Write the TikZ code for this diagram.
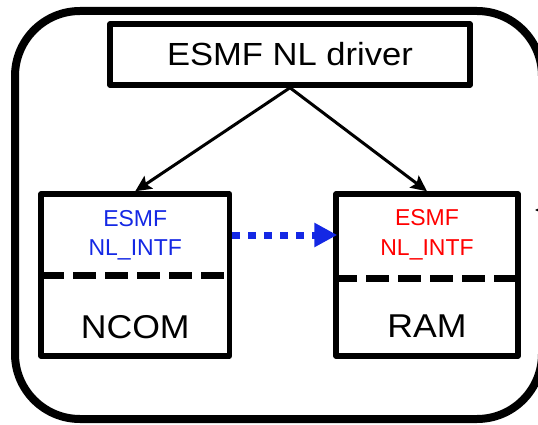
\documentclass[tikz,border=0pt]{standalone}
\usepackage{fontspec}
\setmainfont{Liberation Sans}
\newfontfamily\widesans[FakeStretch=1.08]{Liberation Sans}
\usetikzlibrary{arrows.meta}
\definecolor{intfblue}{RGB}{20,40,228}
\definecolor{intfred}{RGB}{255,0,0}
\tikzset{
  box/.style={draw, line width=5.5pt, line join=round, rectangle, inner sep=0pt},
  frame/.style={draw, line width=8pt, rounded corners=65pt, inner sep=0pt},
  bigtext/.style={font=\widesans\fontsize{33}{38}\selectfont, anchor=base, inner sep=0pt},
  smalltext/.style={font=\fontsize{23}{27}\selectfont, anchor=base, inner sep=0pt},
  divider/.style={line width=7pt, dash pattern=on 23pt off 9pt},
  callarrow/.style={line width=3pt, -{Stealth[length=16pt,width=15pt,inset=3pt]}},
  linkarrow/.style={line width=7pt, intfblue, dash pattern=on 7.5pt off 8.5pt,
    -{Triangle[length=23pt,width=23pt]}, shorten >=-4pt}
}
\begin{document}
\begin{tikzpicture}[x=1pt, y=-1pt]
\useasboundingbox (0,0) rectangle (538,425);

% enclosing frame (runs past the right edge)
\node[frame, minimum width=527pt, minimum height=408pt] (frame) at (278.5,215) {};

% driver box
\node[box, minimum width=360pt, minimum height=61pt] (driver) at (290,54.5) {};
\node[bigtext, font=\widesans\fontsize{32}{38}\selectfont] (drivertxt) at (290,65.5) {ESMF NL driver};

% NCOM component
\node[box, minimum width=188.5pt, minimum height=162pt] (ncom) at (135.25,275) {};
\node[smalltext, text=intfblue] (ncomesmf) at (135.25,226) {ESMF};
\node[smalltext, text=intfblue] (ncomintf) at (135.25,255) {NL\_INTF};
\node[bigtext] (ncomtxt) at (135.25,338) {NCOM};
\coordinate (ncomdivL) at (41,275.5);
\coordinate (ncomdivR) at (224,275.5);
\draw[divider] (ncomdivL) -- (ncomdivR);

% RAM component
\node[box, minimum width=182pt, minimum height=162pt] (ram) at (427,275) {};
\node[smalltext, text=intfred] (ramesmf) at (427,225.5) {ESMF};
\node[smalltext, text=intfred] (ramintf) at (427,255) {NL\_INTF};
\node[bigtext] (ramtxt) at (427,337) {RAM};
\coordinate (ramdivL) at (336,278.5);
\coordinate (ramdivR) at (518,278.5);
\draw[divider, dash phase=2pt] (ramdivL) -- (ramdivR);

% calls from the driver
\draw[callarrow] (driver.south) -- (ncom.north);
\draw[callarrow] (driver.south) -- (ram.north);

% interface link between the components
\draw[linkarrow] ([yshift=40pt]ncom.east) -- ([yshift=40pt]ram.west);

% incoming arrow from outside the frame
\coordinate (extsrc) at (580,210);
\coordinate (exttip) at (535,210);
\draw[line width=2.5pt, -{Stealth[length=9pt,width=8pt]}] (extsrc) -- (exttip);
\end{tikzpicture}
\end{document}
